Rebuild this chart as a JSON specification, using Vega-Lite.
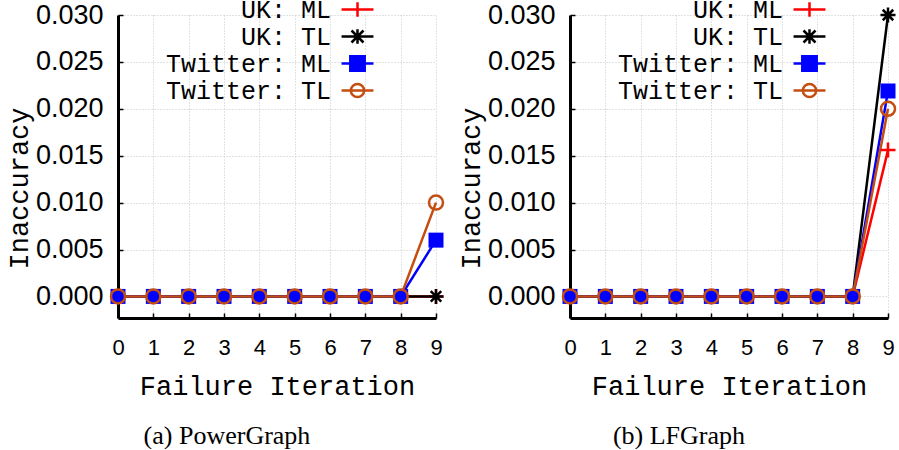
{
  "$schema": "https://vega.github.io/schema/vega-lite/v6.json",
  "background": "white",
  "padding": {"left": 5, "top": -4, "right": 5, "bottom": 0},
  "config": {"view": {"stroke": null}, "font": "Liberation Sans", "concat": {"spacing": 8}},
  "datasets": {
    "acc": [
      {"panel": "PowerGraph", "series": "UK: ML", "x": 0, "y": 0},
      {"panel": "PowerGraph", "series": "UK: ML", "x": 1, "y": 0},
      {"panel": "PowerGraph", "series": "UK: ML", "x": 2, "y": 0},
      {"panel": "PowerGraph", "series": "UK: ML", "x": 3, "y": 0},
      {"panel": "PowerGraph", "series": "UK: ML", "x": 4, "y": 0},
      {"panel": "PowerGraph", "series": "UK: ML", "x": 5, "y": 0},
      {"panel": "PowerGraph", "series": "UK: ML", "x": 6, "y": 0},
      {"panel": "PowerGraph", "series": "UK: ML", "x": 7, "y": 0},
      {"panel": "PowerGraph", "series": "UK: ML", "x": 8, "y": 0},
      {"panel": "PowerGraph", "series": "UK: ML", "x": 9, "y": 0},
      {"panel": "PowerGraph", "series": "UK: TL", "x": 0, "y": 0},
      {"panel": "PowerGraph", "series": "UK: TL", "x": 1, "y": 0},
      {"panel": "PowerGraph", "series": "UK: TL", "x": 2, "y": 0},
      {"panel": "PowerGraph", "series": "UK: TL", "x": 3, "y": 0},
      {"panel": "PowerGraph", "series": "UK: TL", "x": 4, "y": 0},
      {"panel": "PowerGraph", "series": "UK: TL", "x": 5, "y": 0},
      {"panel": "PowerGraph", "series": "UK: TL", "x": 6, "y": 0},
      {"panel": "PowerGraph", "series": "UK: TL", "x": 7, "y": 0},
      {"panel": "PowerGraph", "series": "UK: TL", "x": 8, "y": 0},
      {"panel": "PowerGraph", "series": "UK: TL", "x": 9, "y": 0},
      {"panel": "PowerGraph", "series": "Twitter: ML", "x": 0, "y": 0},
      {"panel": "PowerGraph", "series": "Twitter: ML", "x": 1, "y": 0},
      {"panel": "PowerGraph", "series": "Twitter: ML", "x": 2, "y": 0},
      {"panel": "PowerGraph", "series": "Twitter: ML", "x": 3, "y": 0},
      {"panel": "PowerGraph", "series": "Twitter: ML", "x": 4, "y": 0},
      {"panel": "PowerGraph", "series": "Twitter: ML", "x": 5, "y": 0},
      {"panel": "PowerGraph", "series": "Twitter: ML", "x": 6, "y": 0},
      {"panel": "PowerGraph", "series": "Twitter: ML", "x": 7, "y": 0},
      {"panel": "PowerGraph", "series": "Twitter: ML", "x": 8, "y": 0},
      {"panel": "PowerGraph", "series": "Twitter: ML", "x": 9, "y": 0.006},
      {"panel": "PowerGraph", "series": "Twitter: TL", "x": 0, "y": 0},
      {"panel": "PowerGraph", "series": "Twitter: TL", "x": 1, "y": 0},
      {"panel": "PowerGraph", "series": "Twitter: TL", "x": 2, "y": 0},
      {"panel": "PowerGraph", "series": "Twitter: TL", "x": 3, "y": 0},
      {"panel": "PowerGraph", "series": "Twitter: TL", "x": 4, "y": 0},
      {"panel": "PowerGraph", "series": "Twitter: TL", "x": 5, "y": 0},
      {"panel": "PowerGraph", "series": "Twitter: TL", "x": 6, "y": 0},
      {"panel": "PowerGraph", "series": "Twitter: TL", "x": 7, "y": 0},
      {"panel": "PowerGraph", "series": "Twitter: TL", "x": 8, "y": 0},
      {"panel": "PowerGraph", "series": "Twitter: TL", "x": 9, "y": 0.010},
      {"panel": "LFGraph", "series": "UK: ML", "x": 0, "y": 0},
      {"panel": "LFGraph", "series": "UK: ML", "x": 1, "y": 0},
      {"panel": "LFGraph", "series": "UK: ML", "x": 2, "y": 0},
      {"panel": "LFGraph", "series": "UK: ML", "x": 3, "y": 0},
      {"panel": "LFGraph", "series": "UK: ML", "x": 4, "y": 0},
      {"panel": "LFGraph", "series": "UK: ML", "x": 5, "y": 0},
      {"panel": "LFGraph", "series": "UK: ML", "x": 6, "y": 0},
      {"panel": "LFGraph", "series": "UK: ML", "x": 7, "y": 0},
      {"panel": "LFGraph", "series": "UK: ML", "x": 8, "y": 0},
      {"panel": "LFGraph", "series": "UK: ML", "x": 9, "y": 0.0156},
      {"panel": "LFGraph", "series": "UK: TL", "x": 0, "y": 0},
      {"panel": "LFGraph", "series": "UK: TL", "x": 1, "y": 0},
      {"panel": "LFGraph", "series": "UK: TL", "x": 2, "y": 0},
      {"panel": "LFGraph", "series": "UK: TL", "x": 3, "y": 0},
      {"panel": "LFGraph", "series": "UK: TL", "x": 4, "y": 0},
      {"panel": "LFGraph", "series": "UK: TL", "x": 5, "y": 0},
      {"panel": "LFGraph", "series": "UK: TL", "x": 6, "y": 0},
      {"panel": "LFGraph", "series": "UK: TL", "x": 7, "y": 0},
      {"panel": "LFGraph", "series": "UK: TL", "x": 8, "y": 0},
      {"panel": "LFGraph", "series": "UK: TL", "x": 9, "y": 0.030},
      {"panel": "LFGraph", "series": "Twitter: ML", "x": 0, "y": 0},
      {"panel": "LFGraph", "series": "Twitter: ML", "x": 1, "y": 0},
      {"panel": "LFGraph", "series": "Twitter: ML", "x": 2, "y": 0},
      {"panel": "LFGraph", "series": "Twitter: ML", "x": 3, "y": 0},
      {"panel": "LFGraph", "series": "Twitter: ML", "x": 4, "y": 0},
      {"panel": "LFGraph", "series": "Twitter: ML", "x": 5, "y": 0},
      {"panel": "LFGraph", "series": "Twitter: ML", "x": 6, "y": 0},
      {"panel": "LFGraph", "series": "Twitter: ML", "x": 7, "y": 0},
      {"panel": "LFGraph", "series": "Twitter: ML", "x": 8, "y": 0},
      {"panel": "LFGraph", "series": "Twitter: ML", "x": 9, "y": 0.0219},
      {"panel": "LFGraph", "series": "Twitter: TL", "x": 0, "y": 0},
      {"panel": "LFGraph", "series": "Twitter: TL", "x": 1, "y": 0},
      {"panel": "LFGraph", "series": "Twitter: TL", "x": 2, "y": 0},
      {"panel": "LFGraph", "series": "Twitter: TL", "x": 3, "y": 0},
      {"panel": "LFGraph", "series": "Twitter: TL", "x": 4, "y": 0},
      {"panel": "LFGraph", "series": "Twitter: TL", "x": 5, "y": 0},
      {"panel": "LFGraph", "series": "Twitter: TL", "x": 6, "y": 0},
      {"panel": "LFGraph", "series": "Twitter: TL", "x": 7, "y": 0},
      {"panel": "LFGraph", "series": "Twitter: TL", "x": 8, "y": 0},
      {"panel": "LFGraph", "series": "Twitter: TL", "x": 9, "y": 0.020}
    ]
  },
  "data": {"name": "acc"},
  "resolve": {"scale": {"color": "independent"}, "legend": {"color": "independent"}},
  "hconcat": [
    {
      "width": 318, "height": 303,
      "title": {"text": "(a) PowerGraph", "orient": "bottom", "frame": "bounds", "anchor": "middle", "font": "Liberation Serif", "fontSize": 26, "fontWeight": "normal", "color": "black", "offset": 24},
      "transform": [{"filter": "datum.panel == 'PowerGraph'"}],
      "encoding": {
        "x": {"field": "x", "type": "quantitative", "scale": {"domain": [0, 9], "nice": false, "zero": false},
          "axis": {"values": [0,1,2,3,4,5,6,7,8,9], "format": "d", "title": "Failure Iteration", "titleFont": "Liberation Mono", "titleFontSize": 27, "titleFontWeight": "normal", "titleColor": "black", "titlePadding": 15, "labelFont": "Liberation Sans", "labelFontSize": 22, "labelColor": "black", "labelFlush": false, "labelPadding": 24, "domainColor": "black", "domainWidth": 3, "tickColor": "black", "tickSize": -5, "tickWidth": 1.5, "grid": true, "gridColor": "#c4c4c4", "gridDash": [1, 2], "gridWidth": 1}},
        "y": {"field": "y", "type": "quantitative", "scale": {"domain": [-0.0023, 0.03], "nice": false, "zero": false},
          "axis": {"values": [0, 0.005, 0.01, 0.015, 0.02, 0.025, 0.03], "format": ".3f", "title": "Inaccuracy", "titleFont": "Liberation Mono", "titleFontSize": 27, "titleFontWeight": "normal", "titleColor": "black", "titlePadding": 2, "titleY": 173, "labelFont": "Liberation Sans", "labelFontSize": 27, "labelColor": "black", "labelFlush": false, "labelPadding": 20, "domainColor": "black", "domainWidth": 3, "tickColor": "black", "tickSize": -5, "tickWidth": 1.5, "grid": true, "gridColor": "#c4c4c4", "gridDash": [1, 2], "gridWidth": 1}}
      },
      "layer": [
        {"mark": {"type": "line", "strokeWidth": 2.5, "clip": false},
          "encoding": {"color": {"field": "series", "type": "nominal",
            "scale": {"domain": ["UK: ML", "UK: TL", "Twitter: ML", "Twitter: TL"], "range": ["#ff0000", "#000000", "#0000ff", "#c44e12"]},
            "legend": {"title": null, "orient": "none", "legendX": 226, "legendY": -19, "padding": 0, "labelFont": "Liberation Mono", "labelFontSize": 25, "labelColor": "black", "labelAlign": "right", "labelBaseline": "middle", "labelOffset": -40, "labelLimit": 400, "symbolSize": 576, "symbolStrokeWidth": 2.5, "rowPadding": 0,
              "encode": {
                "symbols": {"update": {
                "shape": {"signal": "datum.value == 'UK: ML' ? 'M-1.33,0H1.33M0,-0.6V0.6' : datum.value == 'UK: TL' ? 'M-1.33,0H1.33M0,-0.6V0.6M-0.5,-0.5L0.5,0.5M-0.5,0.5L0.5,-0.5' : datum.value == 'Twitter: ML' ? 'M-1.33,0H1.33M-0.6,-0.6H0.6V0.6H-0.6Z' : 'M-1.33,0H1.33M-0.55,0A0.55,0.55 0 1,0 0.55,0A0.55,0.55 0 1,0 -0.55,0Z'"},
                "fill": {"signal": "datum.value == 'Twitter: ML' ? '#0000ff' : 'transparent'"}}}}}}}},
        {"transform": [{"filter": "datum.series == 'UK: ML'"}], "mark": {"type": "point", "shape": "M-1,0H1M0,-1V1", "filled": false, "color": "#ff0000", "strokeWidth": 2.5, "size": 225, "opacity": 1, "clip": false}},
        {"transform": [{"filter": "datum.series == 'UK: TL'"}], "mark": {"type": "point", "shape": "M-1,0H1M0,-1V1M-0.7,-0.7L0.7,0.7M-0.7,0.7L0.7,-0.7", "filled": false, "color": "#000000", "strokeWidth": 2.5, "size": 225, "opacity": 1, "clip": false}},
        {"transform": [{"filter": "datum.series == 'Twitter: ML'"}], "mark": {"type": "point", "shape": "square", "filled": true, "color": "#0000ff", "size": 225, "opacity": 1, "clip": false}},
        {"transform": [{"filter": "datum.series == 'Twitter: TL'"}], "mark": {"type": "point", "shape": "circle", "filled": false, "color": "#c44e12", "strokeWidth": 2.5, "size": 196, "opacity": 1, "clip": false}}
      ]
    },
    {
      "width": 318, "height": 303,
      "title": {"text": "(b) LFGraph", "orient": "bottom", "frame": "bounds", "anchor": "middle", "font": "Liberation Serif", "fontSize": 26, "fontWeight": "normal", "color": "black", "offset": 24},
      "transform": [{"filter": "datum.panel == 'LFGraph'"}],
      "encoding": {
        "x": {"field": "x", "type": "quantitative", "scale": {"domain": [0, 9], "nice": false, "zero": false},
          "axis": {"values": [0,1,2,3,4,5,6,7,8,9], "format": "d", "title": "Failure Iteration", "titleFont": "Liberation Mono", "titleFontSize": 27, "titleFontWeight": "normal", "titleColor": "black", "titlePadding": 15, "labelFont": "Liberation Sans", "labelFontSize": 22, "labelColor": "black", "labelFlush": false, "labelPadding": 24, "domainColor": "black", "domainWidth": 3, "tickColor": "black", "tickSize": -5, "tickWidth": 1.5, "grid": true, "gridColor": "#c4c4c4", "gridDash": [1, 2], "gridWidth": 1}},
        "y": {"field": "y", "type": "quantitative", "scale": {"domain": [-0.0023, 0.03], "nice": false, "zero": false},
          "axis": {"values": [0, 0.005, 0.01, 0.015, 0.02, 0.025, 0.03], "format": ".3f", "title": "Inaccuracy", "titleFont": "Liberation Mono", "titleFontSize": 27, "titleFontWeight": "normal", "titleColor": "black", "titlePadding": 2, "titleY": 173, "labelFont": "Liberation Sans", "labelFontSize": 27, "labelColor": "black", "labelFlush": false, "labelPadding": 20, "domainColor": "black", "domainWidth": 3, "tickColor": "black", "tickSize": -5, "tickWidth": 1.5, "grid": true, "gridColor": "#c4c4c4", "gridDash": [1, 2], "gridWidth": 1}}
      },
      "layer": [
        {"mark": {"type": "line", "strokeWidth": 2.5, "clip": false},
          "encoding": {"color": {"field": "series", "type": "nominal",
            "scale": {"domain": ["UK: ML", "UK: TL", "Twitter: ML", "Twitter: TL"], "range": ["#ff0000", "#000000", "#0000ff", "#c44e12"]},
            "legend": {"title": null, "orient": "none", "legendX": 226, "legendY": -19, "padding": 0, "labelFont": "Liberation Mono", "labelFontSize": 25, "labelColor": "black", "labelAlign": "right", "labelBaseline": "middle", "labelOffset": -40, "labelLimit": 400, "symbolSize": 576, "symbolStrokeWidth": 2.5, "rowPadding": 0,
              "encode": {
                "symbols": {"update": {
                "shape": {"signal": "datum.value == 'UK: ML' ? 'M-1.33,0H1.33M0,-0.6V0.6' : datum.value == 'UK: TL' ? 'M-1.33,0H1.33M0,-0.6V0.6M-0.5,-0.5L0.5,0.5M-0.5,0.5L0.5,-0.5' : datum.value == 'Twitter: ML' ? 'M-1.33,0H1.33M-0.6,-0.6H0.6V0.6H-0.6Z' : 'M-1.33,0H1.33M-0.55,0A0.55,0.55 0 1,0 0.55,0A0.55,0.55 0 1,0 -0.55,0Z'"},
                "fill": {"signal": "datum.value == 'Twitter: ML' ? '#0000ff' : 'transparent'"}}}}}}}},
        {"transform": [{"filter": "datum.series == 'UK: ML'"}], "mark": {"type": "point", "shape": "M-1,0H1M0,-1V1", "filled": false, "color": "#ff0000", "strokeWidth": 2.5, "size": 225, "opacity": 1, "clip": false}},
        {"transform": [{"filter": "datum.series == 'UK: TL'"}], "mark": {"type": "point", "shape": "M-1,0H1M0,-1V1M-0.7,-0.7L0.7,0.7M-0.7,0.7L0.7,-0.7", "filled": false, "color": "#000000", "strokeWidth": 2.5, "size": 225, "opacity": 1, "clip": false}},
        {"transform": [{"filter": "datum.series == 'Twitter: ML'"}], "mark": {"type": "point", "shape": "square", "filled": true, "color": "#0000ff", "size": 225, "opacity": 1, "clip": false}},
        {"transform": [{"filter": "datum.series == 'Twitter: TL'"}], "mark": {"type": "point", "shape": "circle", "filled": false, "color": "#c44e12", "strokeWidth": 2.5, "size": 196, "opacity": 1, "clip": false}}
      ]
    }
  ]
}
